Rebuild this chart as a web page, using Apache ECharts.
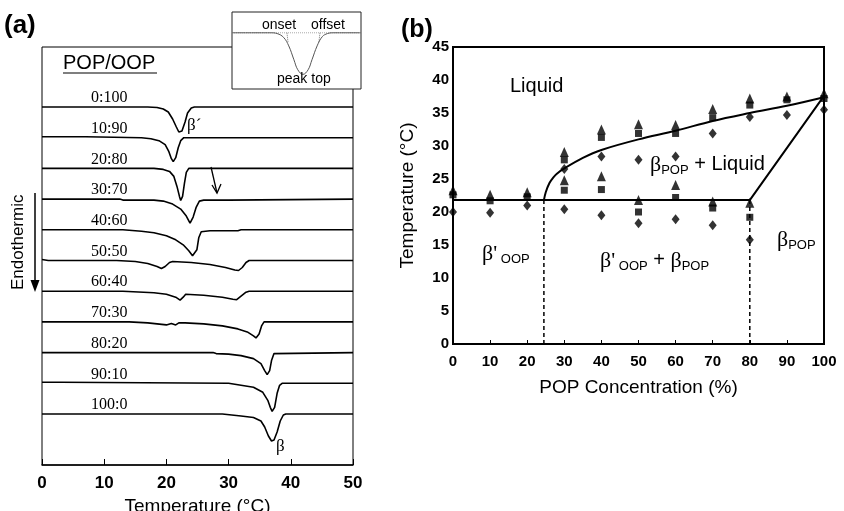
<!DOCTYPE html>
<html>
<head>
<meta charset="utf-8">
<script src="https://cdn.jsdelivr.net/npm/echarts@6/dist/echarts.min.js"></script>
<style>
  html, body { margin: 0; padding: 0; background: #fff; }
  #chart { width: 844px; height: 511px; }
</style>
</head>
<body>
<div id="chart"></div>
<script>
// ---- (a) DSC melting curves, POP/OOP ratio, [temperature °C, downward deflection] ----
const ratios = ['0:100', '10:90', '20:80', '30:70', '40:60', '50:50', '60:40', '70:30', '80:20', '90:10', '100:0'];
const dsc_0_100 = [[0,0],[17,0],[18.5,0.5],[19.5,2],[20.3,5],[21,12],[21.6,20],[22,25],[22.5,24],[23,15],[23.4,6],[24,1],[24.5,0],[50,0]];
const dsc_10_90 = [[0,-1],[7,-1],[7.2,0],[16,0],[17.5,1],[18.8,3],[19.8,7],[20.4,14],[20.8,21],[21.1,24],[21.5,20],[21.9,10],[22.3,3],[22.8,0],[50,0]];
const dsc_20_80 = [[0,0],[18,0],[19.5,1],[20.5,3],[21.2,8],[21.7,18],[22.1,28],[22.3,32],[22.6,28],[22.9,15],[23.2,4],[23.6,0],[50,0]];
const dsc_30_70 = [[0,0],[12.5,0],[13,1],[18,1],[19.5,2],[21,5],[22.3,10],[23.2,17],[23.8,24],[24.3,18],[24.8,8],[25.3,2],[26,1],[30,1],[30.3,0],[50,0]];
const dsc_40_60 = [[0,0],[13,0],[13.3,1],[16,1.5],[18,3],[20,6],[21.5,10],[22.7,15],[23.6,21],[24.2,26],[24.5,27],[24.9,20],[25.2,8],[25.6,2],[27,1],[31.5,1],[32,0],[50,0]];
const dsc_50_50 = [[0,-1],[1,0],[12,0],[15,1],[17,3],[18.5,6],[19.2,8],[19.8,6],[20.5,2],[21,1],[24,2],[27,4],[29.5,7],[31,9.5],[31.6,10],[32.2,7],[32.8,2],[33.3,0],[50,0]];
const dsc_60_40 = [[0,0],[13,0],[13.3,1],[18,1.5],[20,3],[21.5,6],[22.2,9],[22.7,6],[23.1,3],[26,4],[29,6],[30.7,8],[31.3,8.5],[32,5],[32.8,1],[33.3,0],[50,0]];
const dsc_70_30 = [[0,0],[14,0],[17,1],[18.5,2],[20,3],[20.8,1.5],[21.5,3],[22,1],[23,1],[26,2],[29,4],[31.5,7],[33,10],[34,14],[34.4,16],[34.9,12],[35.3,4],[35.7,0],[50,0]];
const dsc_80_20 = [[0,0],[27.5,0],[28,1],[30,1.5],[32,3],[34,6],[35.2,11],[35.8,18],[36.2,22],[36.6,18],[36.9,8],[37.3,1],[37.6,0],[50,0]];
const dsc_90_10 = [[0,-1],[3,-1],[3.1,0],[30,0],[30.2,1],[32,2],[34,4],[35.5,9],[36.3,17],[36.7,24],[37,28],[37.4,24],[37.8,10],[38.2,2],[38.6,0],[50,0]];
const dsc_100_0 = [[0,0],[29,0],[29.2,1.5],[32,2],[34,3.5],[35.2,7],[35.8,13],[36.4,22],[36.9,27],[37.3,26],[37.8,18],[38.3,7],[38.8,1],[39.2,0],[50,0]];
const dscTraces = [dsc_0_100, dsc_10_90, dsc_20_80, dsc_30_70, dsc_40_60, dsc_50_50, dsc_60_40, dsc_70_30, dsc_80_20, dsc_90_10, dsc_100_0];

// inset schematic peak [x, signal]
const insetBase = [[0,0.73],[100,0.73]];
const insetPeak = [[0,0.73],[30,0.73],[35,0.72],[40,0.67],[44,0.56],[48,0.38],[51,0.25],[55,0.19],[59,0.25],[62,0.38],[66,0.56],[70,0.68],[74,0.72],[78,0.73],[100,0.73]];
const insetOnset = [[42.6,0.73],[43.5,0.6]];
const insetOffset = [[68.2,0.73],[67.3,0.6]];

// ---- (b) phase diagram: [POP %, temperature °C] ----
const triPoints = [[0,23.3],[10,22.6],[20,23.0],[30,29.1],[30,24.8],[40,32.5],[40,25.4],[50,33.3],[50,21.8],[60,33.2],[60,24.1],[70,35.6],[70,21.6],[80,37.2],[80,21.4],[90,37.5],[100,38.0]];
const sqPoints = [[0,22.6],[10,21.7],[20,22.3],[30,27.9],[30,23.3],[40,31.3],[40,23.4],[50,31.9],[50,20.0],[60,31.9],[60,22.2],[70,34.3],[70,20.6],[80,36.2],[80,19.2],[90,37.0],[100,37.2]];
const diaPoints = [[0,20.0],[10,19.9],[20,21.0],[30,26.5],[30,20.4],[40,28.4],[40,19.5],[50,27.9],[50,18.3],[60,28.4],[60,18.9],[70,31.9],[70,18.0],[80,34.4],[80,15.8],[90,34.7],[100,35.5]];
const liquidus = [[24.5,21.8],[25,23.0],[26,24.4],[27,25.2],[28,25.8],[30,26.6],[35,28.2],[40,29.4],[50,31.0],[60,32.3],[70,33.8],[80,35.0],[90,36.1],[100,37.4]];
const solidus = [[0,21.8],[80,21.8],[100,37.6]];
const boundaryLeft = [[24.5,0],[24.5,21.8]];
const boundaryRight = [[80,0],[80,21.8]];

const chart = echarts.init(document.getElementById('chart'));

const firstBase = 60, stackStep = 30.7; // vertical stacking of DSC traces
const sans = 'Liberation Sans', serif = 'Liberation Serif';

const traceSeries = dscTraces.map((tr, i) => ({
  type: 'line', xAxisIndex: 0, yAxisIndex: 0, symbol: 'none',
  lineStyle: { color: '#000', width: 1.6 },
  data: tr.map(p => [p[0], firstBase + i * stackStep + p[1]])
}));

const traceLabels = ratios.map((r, i) => ({
  type: 'text', left: 91, top: 47 + firstBase + i * stackStep - 17,
  style: { text: r, fontFamily: serif, fontSize: 16, fill: '#000' }
}));

const sub = {
  m: { fontSize: 20, fontFamily: sans, lineHeight: 22, verticalAlign: 'top' },
  g: { fontSize: 22, fontFamily: serif, lineHeight: 22, verticalAlign: 'top' },
  s: { fontSize: 13, fontFamily: sans, lineHeight: 13, padding: [10, 0, 0, 0], verticalAlign: 'top' }
};

const option = {
  animation: false,
  backgroundColor: '#fff',
  grid: [
    { left: 42, top: 47, width: 311, height: 418, outerBoundsMode: 'none', show: true, borderColor: '#000', borderWidth: 1, z: 0 },
    { left: 453, top: 47, width: 371, height: 297, outerBoundsMode: 'none', show: true, borderColor: '#000', borderWidth: 2, z: 0 },
    { left: 232, top: 12, width: 129, height: 77, outerBoundsMode: 'none', show: true, backgroundColor: '#fff', borderColor: '#222', borderWidth: 1, z: 5 }
  ],
  xAxis: [
    {
      gridIndex: 0, type: 'value', min: 0, max: 50, interval: 10, position: 'bottom',
      name: 'Temperature (°C)', nameLocation: 'middle', nameGap: 28,
      nameTextStyle: { fontFamily: sans, fontSize: 19, color: '#000' },
      axisLine: { onZero: false, lineStyle: { color: '#000', width: 1.5 } },
      axisTick: { inside: true, length: 6, lineStyle: { color: '#000' } },
      axisLabel: { fontFamily: sans, fontSize: 17, fontWeight: 'bold', color: '#000', margin: 10 },
      splitLine: { show: false }
    },
    {
      gridIndex: 1, type: 'value', min: 0, max: 100, interval: 10,
      name: 'POP Concentration (%)', nameLocation: 'middle', nameGap: 34,
      nameTextStyle: { fontFamily: sans, fontSize: 19, color: '#000' },
      axisLine: { onZero: false, lineStyle: { color: '#000', width: 2 } },
      axisTick: { inside: true, length: 4, lineStyle: { color: '#000' } },
      axisLabel: { fontFamily: sans, fontSize: 15, fontWeight: 'bold', color: '#000', margin: 10 },
      splitLine: { show: false }
    },
    { gridIndex: 2, type: 'value', min: 0, max: 100, show: false, splitLine: { show: false } }
  ],
  yAxis: [
    { gridIndex: 0, type: 'value', min: 0, max: 418, inverse: true, show: false, splitLine: { show: false } },
    {
      gridIndex: 1, type: 'value', min: 0, max: 45, interval: 5,
      name: 'Temperature (°C)', nameLocation: 'middle', nameGap: 36,
      nameTextStyle: { fontFamily: sans, fontSize: 19, color: '#000' },
      axisLine: { show: true, onZero: false, lineStyle: { color: '#000', width: 2 } },
      axisTick: { show: false },
      axisLabel: { fontFamily: sans, fontSize: 15, fontWeight: 'bold', color: '#000', margin: 4 },
      splitLine: { show: false }
    },
    { gridIndex: 2, type: 'value', min: 0, max: 1, show: false, splitLine: { show: false } }
  ],
  series: [
    ...traceSeries,
    { type: 'line', xAxisIndex: 2, yAxisIndex: 2, symbol: 'none', z: 6, data: insetBase,
      lineStyle: { color: '#aaa', width: 1, type: 'dotted' } },
    { type: 'line', xAxisIndex: 2, yAxisIndex: 2, symbol: 'none', z: 7, smooth: 0.4, data: insetPeak,
      lineStyle: { color: '#555', width: 1 } },
    { type: 'line', xAxisIndex: 2, yAxisIndex: 2, symbol: 'none', z: 7, data: insetOnset,
      lineStyle: { color: '#777', width: 1, type: 'dotted' } },
    { type: 'line', xAxisIndex: 2, yAxisIndex: 2, symbol: 'none', z: 7, data: insetOffset,
      lineStyle: { color: '#777', width: 1, type: 'dotted' } },
    { type: 'line', xAxisIndex: 1, yAxisIndex: 1, symbol: 'none', data: liquidus, smooth: 0.35,
      lineStyle: { color: '#000', width: 2 } },
    { type: 'line', xAxisIndex: 1, yAxisIndex: 1, symbol: 'none', data: solidus,
      lineStyle: { color: '#000', width: 2 } },
    { type: 'line', xAxisIndex: 1, yAxisIndex: 1, symbol: 'none', data: boundaryLeft,
      lineStyle: { color: '#000', width: 1.5, type: [4, 3] } },
    { type: 'line', xAxisIndex: 1, yAxisIndex: 1, symbol: 'none', data: boundaryRight,
      lineStyle: { color: '#000', width: 1.5, type: [4, 3] } },
    { type: 'scatter', xAxisIndex: 1, yAxisIndex: 1, symbol: 'rect', symbolSize: 7, z: 4,
      itemStyle: { color: '#000' }, data: sqPoints },
    { type: 'scatter', xAxisIndex: 1, yAxisIndex: 1, symbol: 'triangle', symbolSize: [9, 10], z: 5,
      itemStyle: { color: '#000' }, data: triPoints },
    { type: 'scatter', xAxisIndex: 1, yAxisIndex: 1, symbol: 'diamond', symbolSize: [8, 10], z: 5,
      itemStyle: { color: '#000' }, data: diaPoints }
  ],
  graphic: [
    { type: 'text', left: 4, top: 13, style: { text: '(a)', fontFamily: sans, fontSize: 26, fontWeight: 'bold', fill: '#000' } },
    { type: 'text', left: 401, top: 18, style: { text: '(b)', fontFamily: sans, fontSize: 25, fontWeight: 'bold', fill: '#000' } },
    { type: 'text', left: 63, top: 53, style: { text: 'POP/OOP', fontFamily: sans, fontSize: 20, fill: '#000' } },
    { type: 'line', shape: { x1: 63, y1: 73, x2: 157, y2: 73 }, style: { stroke: '#000', lineWidth: 1.2 } },
    ...traceLabels,
    { type: 'text', left: 187, top: 117, style: { text: 'β´', fontFamily: serif, fontSize: 17, fill: '#000' } },
    { type: 'text', left: 276, top: 438, style: { text: 'β', fontFamily: serif, fontSize: 17, fill: '#000' } },
    // small arrow near 30:70
    { type: 'polyline', shape: { points: [[211, 167], [217, 193]] }, style: { stroke: '#000', lineWidth: 1.3, fill: null } },
    { type: 'polyline', shape: { points: [[212, 185], [217, 193], [221, 184]] }, style: { stroke: '#000', lineWidth: 1.3, fill: null } },
    // Endothermic arrow
    { type: 'text', rotation: Math.PI / 2, x: 10, y: 290, style: { text: 'Endothermic', fontFamily: sans, fontSize: 17, fill: '#000' } },
    { type: 'line', shape: { x1: 35, y1: 193, x2: 35, y2: 282 }, style: { stroke: '#000', lineWidth: 1.5 } },
    { type: 'polygon', shape: { points: [[30.5, 280], [39.5, 280], [35, 292]] }, style: { fill: '#000' } },
    // inset texts
    { type: 'text', z: 20, left: 262, top: 18, style: { text: 'onset', fontFamily: sans, fontSize: 14, fill: '#000' } },
    { type: 'text', z: 20, left: 311, top: 18, style: { text: 'offset', fontFamily: sans, fontSize: 14, fill: '#000' } },
    { type: 'text', z: 20, left: 277, top: 72, style: { text: 'peak top', fontFamily: sans, fontSize: 14, fill: '#000' } },
    // (b) region labels
    { type: 'text', left: 510, top: 76, style: { text: 'Liquid', fontFamily: sans, fontSize: 20, fill: '#000' } },
    { type: 'text', left: 650, top: 154, style: { text: '{g|β}{s|POP}{m| + Liquid}', rich: sub, fill: '#000' } },
    { type: 'text', left: 482, top: 243, style: { text: "{g|β'}{s| OOP}", rich: sub, fill: '#000' } },
    { type: 'text', left: 600, top: 250, style: { text: "{g|β'}{s| OOP}{m| + }{g|β}{s|POP}", rich: sub, fill: '#000' } },
    { type: 'text', left: 777, top: 229, style: { text: '{g|β}{s|POP}', rich: sub, fill: '#000' } }
  ]
};

chart.setOption(option);
</script>
</body>
</html>
